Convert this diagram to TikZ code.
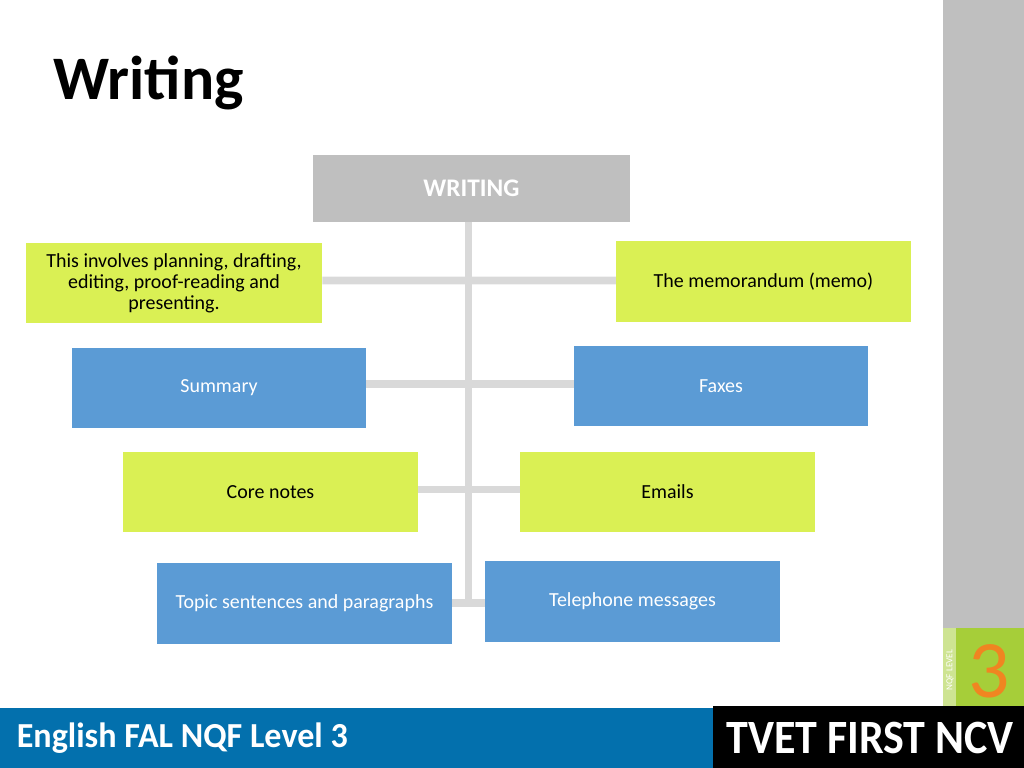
\documentclass[tikz,border=0pt]{standalone}
\usepackage{fontspec}
\setmainfont{Carlito}
\usepackage{tikz}
\usetikzlibrary{calc}
\definecolor{lime}{RGB}{218,240,84}
\definecolor{sky}{RGB}{91,155,213}
\definecolor{trunkgray}{RGB}{217,217,217}
\definecolor{headgray}{RGB}{191,191,191}
\definecolor{barblue}{RGB}{3,112,173}
\definecolor{nqfgreen}{RGB}{166,206,57}
\definecolor{nqforange}{RGB}{240,133,33}
\tikzstyle{head} = [rectangle, minimum width=7.93cm, minimum height=1.68cm, inner sep=0pt, align=center, fill=headgray, text=white, font=\fontsize{18}{20}\selectfont\bfseries]
\tikzstyle{limebox} = [rectangle, minimum width=7.35cm, minimum height=2cm, inner sep=0pt, align=center, fill=lime, text=black, font=\fontsize{14.2}{15}\selectfont]
\tikzstyle{bluebox} = [rectangle, minimum width=7.35cm, minimum height=2cm, inner sep=0pt, align=center, fill=sky, text=white, font=\fontsize{14.2}{15}\selectfont]
\tikzstyle{branch} = [trunkgray, line width=5.5pt]
\begin{document}
\begin{tikzpicture}[x=0.025cm, y=-0.025cm]
    \useasboundingbox (0,0) rectangle (1024,768);
    % side and bottom bars
    \fill[headgray] (943,0) rectangle (1024,628);
    \fill[nqfgreen] (943,628) rectangle (1024,708);
    \fill[nqfgreen!55!white] (943,628) rectangle (956,708);
    \node (nqf)[rotate=90, text=white, font=\fontsize{6.5}{7}\selectfont] at (950,670) {NQF LEVEL};
    \node (three)[text=nqforange, font=\fontsize{58}{60}\selectfont] at (989,671) {3};
    \fill[barblue] (0,708) rectangle (713,768);
    \fill[black] (713,706) rectangle (1024,768);
    \node (course)[anchor=west, xscale=0.97, text=white, font=\fontsize{25}{27}\selectfont\bfseries] at (12,738) {English FAL NQF Level 3};
    \node (brand)[xscale=0.92, text=white, font=\fontsize{34}{36}\selectfont\bfseries] at (870,738) {TVET FIRST NCV};
    % title
    \node (title)[anchor=base west, inner sep=0pt, font=\fontsize{44}{46}\selectfont\bfseries] at (53,100) {Writing};
    % hierarchy
    \node (writing)[head] at (471.5,188.5) {WRITING};
    \node (l1)[limebox, minimum width=7.4cm] at (174,283) {This involves planning, drafting,\\ editing, proof-reading and\\ presenting.};
    \node (r1)[limebox] at (763.5,281.5) {The memorandum (memo)};
    \node (l2)[bluebox] at (219,388) {Summary};
    \node (r2)[bluebox] at (721,386) {Faxes};
    \node (l3)[limebox] at (270.5,492) {Core notes};
    \node (r3)[limebox] at (667.5,492) {Emails};
    \node (l4)[bluebox] at (304.5,603.5) {Topic sentences and paragraphs};
    \node (r4)[bluebox] at (632.5,601.5) {Telephone messages};
    \coordinate (top) at (468.5,222);
    \coordinate (bottom) at (468.5,607);
    \begin{scope}[on background layer/.try]
    \draw[branch] (top) -- (bottom);
    \draw[branch] ($(l1.east)+(0,-2.5)$) -- ($(r1.west)+(0,-1)$);
    \draw[branch] ($(l2.east)+(0,-4)$) -- ($(r2.west)+(0,-2)$);
    \draw[branch] ($(l3.east)+(0,-2.5)$) -- ($(r3.west)+(0,-2.5)$);
    \draw[branch] ($(l4.east)+(0,-0.5)$) -- ($(r4.west)+(0,1.5)$);
    \end{scope}
    % redraw boxes over branches
    \node[limebox, minimum width=7.4cm] at (l1) {This involves planning, drafting,\\ editing, proof-reading and\\ presenting.};
    \node[limebox] at (r1) {The memorandum (memo)};
    \node[bluebox] at (l2) {Summary};
    \node[bluebox] at (r2) {Faxes};
    \node[limebox] at (l3) {Core notes};
    \node[limebox] at (r3) {Emails};
    \node[bluebox] at (l4) {Topic sentences and paragraphs};
    \node[bluebox] at (r4) {Telephone messages};
\end{tikzpicture}
\end{document}
